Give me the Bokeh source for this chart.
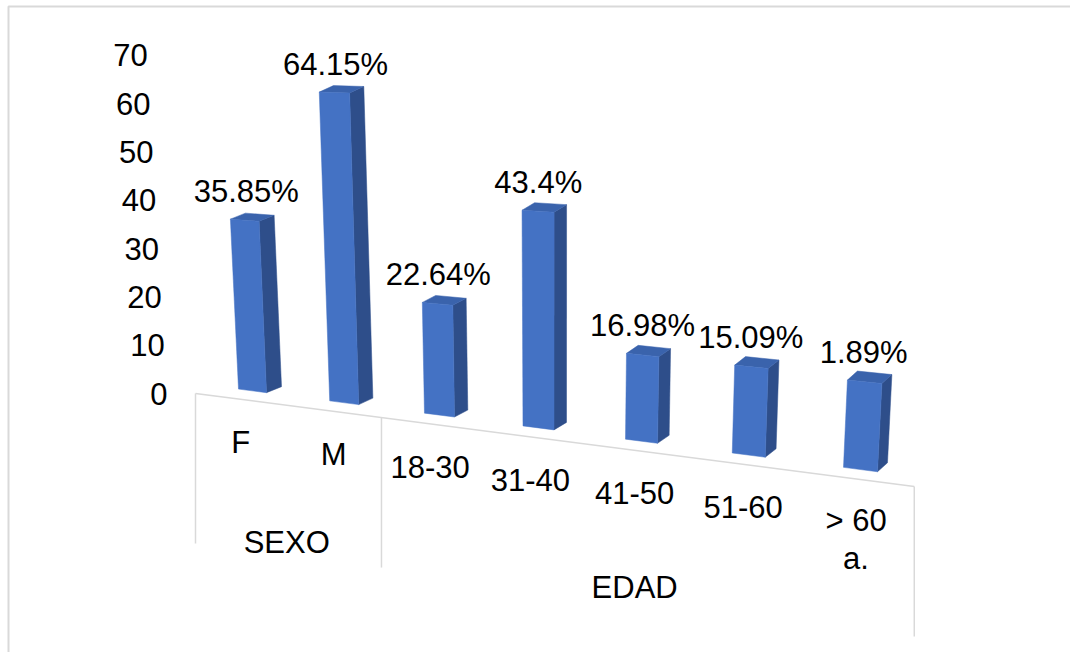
from bokeh.plotting import figure
from bokeh.models import Range1d
from bokeh.embed import file_html
from bokeh.resources import INLINE
from bokeh.core.properties import value

# ---------------- data ----------------
groups = ["SEXO", "EDAD"]
group_sizes = [2, 5]
categories = ["F", "M", "18-30", "31-40", "41-50", "51-60", "> 60\na."]
values = [35.85, 64.15, 22.64, 43.4, 16.98, 17.1, 16.7]          # bar heights as drawn
value_labels = ["35.85%", "64.15%", "22.64%", "43.4%", "16.98%", "15.09%", "1.89%"]
y_ticks = [0, 10, 20, 30, 40, 50, 60, 70]

# ---------------- layout (pseudo-3D projection) ----------------
W, H = 1070, 652
FLOOR_X0, FLOOR_Y0 = 195.0, 393.0
FLOOR_B, FLOOR_C = 89.6, 0.0182
FLOOR_SLOPE = 0.1294
FLOOR_DROP = 150.0
VPX, VPY = 551.0, 6960.0
BAR_X0, BAR_A, BAR_C = 252.0, 90.0, 0.01864
AXIS_PX = 4.829
FONT = value("Liberation Sans")
FS = "31px"

FRONT, SIDE, TOP = "#4472C4", "#2E4E8A", "#3A63AC"
GRID = "#D9D9D9"


def floor_x(u):
    return FLOOR_X0 + FLOOR_B * u / (1 - FLOOR_C * u)


def floor_y(x):
    return FLOOR_Y0 + FLOOR_SLOPE * (x - FLOOR_X0)


def lean(x, yb, h):
    return x + (x - VPX) * h / (VPY - yb)


def px_per_unit(x):
    return 4.74 + 0.0008 * (x - BAR_X0)


p = figure(width=W, height=H, x_range=Range1d(0, W), y_range=Range1d(H, 0),
           output_backend="svg", toolbar_location=None, min_border=0)
p.axis.visible = False
p.grid.visible = False
p.outline_line_color = None
p.background_fill_color = "white"
p.border_fill_color = "white"

# outer chart border
p.quad(left=[8], right=[W + 20], top=[6], bottom=[H + 20], fill_color=None,
       line_color=GRID, line_width=2)

# floor / category frame
n = len(categories)
fx0, fx1 = floor_x(0), floor_x(n)
p.line([fx0, fx1], [floor_y(fx0), floor_y(fx1)], line_color=GRID, line_width=1.5)
bounds = [0]
for s in group_sizes:
    bounds.append(bounds[-1] + s)
for b in bounds:
    x = floor_x(b)
    p.line([x, x], [floor_y(x), floor_y(x) + FLOOR_DROP], line_color=GRID, line_width=1.5)

# bars
fx, fy, sx, sy, tx, ty = [], [], [], [], [], []
lab_x, lab_y = [], []
for i, v in enumerate(values):
    u = float(i)
    xc = BAR_X0 + BAR_A * u / (1 - BAR_C * u)
    w = 28 + u
    xl, xr = xc - w / 2, xc + w / 2
    ybl, ybr = floor_y(xl) - 10, floor_y(xr) - 10
    h = v * px_per_unit(xc)
    tlx, tly = lean(xl, ybl, h), ybl - h
    trx = lean(xr, ybr, h)
    s_top = FLOOR_SLOPE * (1 - h / 400.0)
    try_ = tly + s_top * (trx - tlx)
    dx, dy = 15 - 5 * u / 6, -6 - 3 * u / 6
    fx.append([xl, xr, trx, tlx]); fy.append([ybl, ybr, try_, tly])
    sx.append([xr, xr + dx, trx + dx, trx]); sy.append([ybr, ybr + dy, try_ + dy, try_])
    tx.append([tlx, trx, trx + dx, tlx + dx]); ty.append([tly, try_, try_ + dy, tly + dy])
    lab_x.append((tlx + trx + dx) / 2 - 6)
    lab_y.append(tly - 28)

p.patches(sx, sy, fill_color=SIDE, line_color=SIDE, line_width=0.5)
p.patches(tx, ty, fill_color=TOP, line_color=TOP, line_width=0.5)
p.patches(fx, fy, fill_color=FRONT, line_color=FRONT, line_width=0.5)

# value labels
p.text(x=lab_x, y=lab_y, text=value_labels, text_font=FONT, text_font_size=FS,
       text_align="center", text_baseline="middle", text_color="black")

# category labels (single-line ones centred; multi-line ones hung from the first line)
cx = [floor_x(i + 0.5) for i in range(n)]
single = [i for i in range(n) if "\n" not in categories[i]]
multi = [i for i in range(n) if "\n" in categories[i]]
p.text(x=[cx[i] for i in single], y=[floor_y(cx[i]) + 43 for i in single],
       text=[categories[i] for i in single], text_font=FONT, text_font_size=FS,
       text_align="center", text_baseline="middle", text_color="black")
p.text(x=[cx[i] for i in multi], y=[floor_y(cx[i]) + 42 - 18 for i in multi],
       text=[categories[i] for i in multi], text_font=FONT, text_font_size=FS,
       text_align="center", text_baseline="top", text_color="black", text_line_height=1.1)

# group labels
gx, gy = [], []
for gi, s in enumerate(group_sizes):
    um = (bounds[gi] + bounds[gi + 1]) / 2
    x = floor_x(um)
    gx.append(x)
    gy.append(floor_y(x) + 137)
p.text(x=gx, y=gy, text=groups, text_font=FONT, text_font_size=FS,
       text_align="center", text_baseline="middle", text_color="black")

# value axis tick labels
ty_ = [FLOOR_Y0 - t * AXIS_PX for t in y_ticks]
tx_ = [167 + (167 - VPX) * (FLOOR_Y0 - y) / (VPY - FLOOR_Y0) for y in ty_]
p.text(x=tx_, y=ty_, text=[str(t) for t in y_ticks], text_font=FONT, text_font_size=FS,
       text_align="right", text_baseline="middle", text_color="black")

open("out.html", "w").write(file_html(p, INLINE))
